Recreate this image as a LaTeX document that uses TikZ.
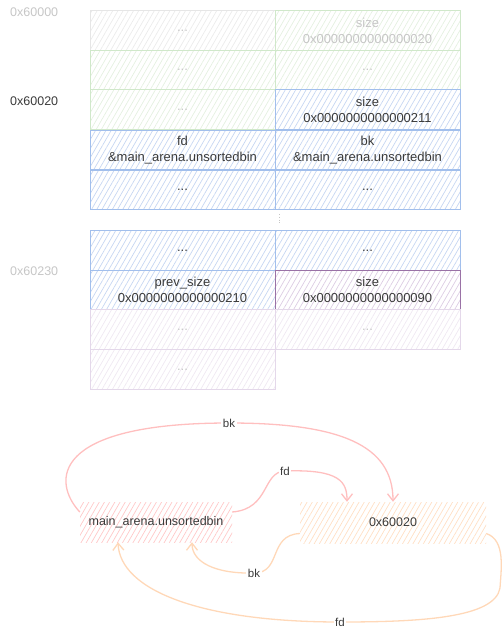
\documentclass[tikz,border=0pt]{standalone}
\usepackage{fontspec}
\setmainfont{Liberation Sans}
\usetikzlibrary{patterns.meta,arrows.meta,calc}
\definecolor{txt}{HTML}{3A3A3A}
\definecolor{fadetxt}{HTML}{C6C6C6}
\definecolor{blueS}{HTML}{A2BFEC}
\definecolor{blueH}{HTML}{C6D6F2}
\definecolor{greenS}{HTML}{D0E8CA}
\definecolor{greenH}{HTML}{E4F0E0}
\definecolor{grayS}{HTML}{E6E6E6}
\definecolor{grayH}{HTML}{EBEBEB}
\definecolor{purS}{HTML}{9A72A6}
\definecolor{purH}{HTML}{DCCCE3}
\definecolor{pfS}{HTML}{E4D8EA}
\definecolor{pfH}{HTML}{EFE8F2}
\definecolor{redH}{HTML}{FFC8C8}
\definecolor{redA}{HTML}{FFBFBF}
\definecolor{orH}{HTML}{FFDFC4}
\definecolor{orA}{HTML}{FFD8B8}
\tikzset{
  cell/.style={rectangle, minimum width=185pt, minimum height=39.5pt, inner sep=0pt, outer sep=0pt,
    align=center, font=\fontsize{13}{16}\selectfont, line width=1pt},
  hatch/.style={pattern={Lines[angle=60,distance=4.5pt,line width=0.7pt]}, pattern color=#1},
  bluecell/.style={cell, draw=blueS, hatch=blueH, text=txt},
  greencell/.style={cell, draw=greenS, hatch=greenH, text=fadetxt},
  graycell/.style={cell, draw=grayS, hatch=grayH, text=fadetxt},
  purcell/.style={cell, draw=purS, hatch=purH, text=txt},
  pfcell/.style={cell, draw=pfS, hatch=pfH, text=fadetxt},
  addr/.style={anchor=west, font=\fontsize{12.5}{14}\selectfont, inner sep=0pt},
  bigbox/.style={rectangle, inner sep=0pt, font=\fontsize{12.5}{16}\selectfont, text=txt},
  lbl/.style={fill=white, inner sep=1.5pt, font=\fontsize{11.5}{13}\selectfont, text=txt},
  conn/.style={line width=1.3pt, -{Straight Barb[length=7pt,width=11pt]}},
}
\begin{document}
\begin{tikzpicture}[x=1pt,y=-1pt]
\useasboundingbox (0,0) rectangle (503,629);
% addresses
\node[addr, text=fadetxt] (a0) at (10,12) {0x60000};
\node[addr, text=txt] (a1) at (10,101) {0x60020};
\node[addr, text=fadetxt] (a2) at (10,271) {0x60230};
% rows
\node[graycell] (r1l) at (182.5,30.5) {...};
\node[greencell] (r1r) at (367.5,30.5) {size\\0x0000000000000020};
\node[greencell] (r2l) at (182.5,70) {...};
\node[greencell] (r2r) at (367.5,70) {...};
\node[greencell] (r3l) at (182.5,109.5) {...};
\node[bluecell] (r3r) at (367.5,109.5) {size\\0x0000000000000211};
\node[bluecell] (r4l) at (182.5,150) {fd\\\&main\_arena.unsortedbin};
\node[bluecell] (r4r) at (367.5,150) {bk\\\&main\_arena.unsortedbin};
\node[bluecell] (r5l) at (182.5,190) {...};
\node[bluecell] (r5r) at (367.5,190) {...};
\draw[fadetxt, line width=0.8pt, dotted] (279,214) -- (279,223);
\node[bluecell] (r6l) at (182.5,250.5) {...};
\node[bluecell] (r6r) at (367.5,250.5) {...};
\node[bluecell] (r7l) at (182.5,290) {prev\_size\\0x0000000000000210};
\node[purcell] (r7r) at (367.5,290) {size\\0x0000000000000090};
\node[pfcell] (r8l) at (182.5,329.5) {...};
\node[pfcell] (r8r) at (367.5,329.5) {...};
\node[pfcell] (r9l) at (182.5,369.5) {...};
% bottom boxes
\node[bigbox, hatch=redH, minimum width=152pt, minimum height=40pt] (ma) at (156,522) {main\_arena.unsortedbin};
\node[bigbox, hatch=orH, minimum width=186pt, minimum height=41pt] (hx) at (393,522.5) {0x60020};
% connectors
\draw[conn, redA] ([yshift=10pt]ma.west) .. controls (52,482) and (50,423) .. (229,423) node[lbl]{bk}
   .. controls (340,423) and (393,445) .. (hx.north);
\draw[conn, redA] ([yshift=10pt]ma.east) .. controls (270,509) and (262,472) .. (285,471) node[lbl]{fd}
   .. controls (340,469) and (347,482) .. ([xshift=-46pt]hx.north);
\draw[conn, orA] ([yshift=-11pt]hx.west) .. controls (268,535) and (282,573) .. (254,573) node[lbl]{bk}
   .. controls (215,574) and (192,562) .. ([xshift=36pt]ma.south);
\draw[conn, orA] ([yshift=-11pt]hx.east) .. controls (506,540) and (501,570) .. (500,588)
   .. controls (495,618) and (420,622) .. (340,622) node[lbl]{fd}
   .. controls (200,622) and (120,590) .. ([xshift=-38pt]ma.south);
\end{tikzpicture}
\end{document}
